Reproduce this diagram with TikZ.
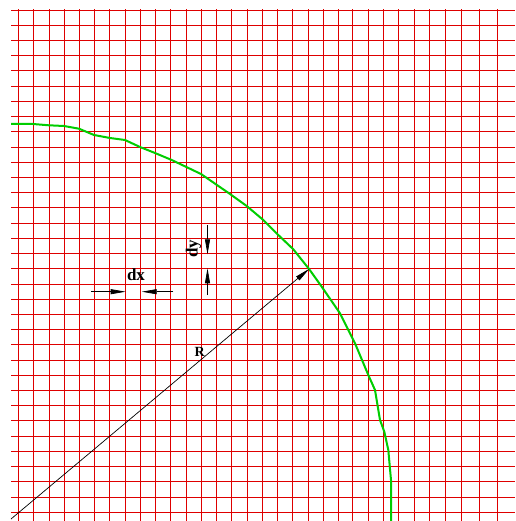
\documentclass[tikz,border=0pt]{standalone}
\usepackage{fontspec}
\setmainfont{Liberation Serif}
\usetikzlibrary{arrows.meta}
\definecolor{gridred}{RGB}{222,0,0}
\definecolor{curvegreen}{RGB}{0,205,0}
\tikzset{
  gridline/.style={gridred, line width=0.9pt},
  curveline/.style={curvegreen, line width=2pt, line join=round},
  arrowline/.style={black, line width=0.7pt, -{Triangle[length=15pt,width=5pt]}},
  lbl/.style={font=\bfseries\fontsize{17}{17}\selectfont, inner sep=0pt},
  lblR/.style={font=\bfseries\fontsize{14}{14}\selectfont, inner sep=0pt}
}
\begin{document}
\begin{tikzpicture}[x=1pt,y=-1pt]
\useasboundingbox (0,0) rectangle (515,521);
% horizontal grid lines
\foreach \k in {0,...,33}{
  \draw[gridline] (11,{10+15.22*\k}) -- (515,{10+15.22*\k});
}
% vertical grid lines
\foreach \xx in {18.3,33.3,49,64,79.3,94.3,109.7,125,140,155.5,170.7,186,201,216.3,231.7,247,262.3,277.3,292.7,308,323.3,338,352.9,368.3,383.3,398.7,414.2,429.5,445.5,461.7,479,497.3}{
  \draw[gridline] (\xx,9.5) -- (\xx,521);
}
% green curve
\draw[curveline] (11,124) -- (33,124) -- (49,125.3) -- (64,126) -- (79,128.7) -- (94,135) -- (110,138) -- (125,140) -- (140,147) -- (155,153) -- (171.7,160) -- (201,174) -- (229,193.3) -- (246.7,206) -- (263.3,220) -- (278.3,235) -- (293.3,249.3) -- (309.3,269.3) -- (321.7,286.7) -- (340,313.3) -- (355,343.3) -- (368.3,375) -- (375,390) -- (380,420) -- (384.3,431.7) -- (388.3,450) -- (391,480) -- (391,521);
% radius
\coordinate (O) at (11,519);
\coordinate (P) at (309.3,268.8);
\draw[arrowline] (O) -- (P);
\node[lblR, anchor=base] (R) at (199.7,356.7) {R};
% dx
\coordinate (dxa) at (91,291.7);
\coordinate (dxb) at (125.7,291.7);
\coordinate (dxc) at (173.3,291.7);
\coordinate (dxd) at (141.7,291.7);
\draw[arrowline] (dxa) -- (dxb);
\draw[arrowline] (dxc) -- (dxd);
\node[lbl, anchor=base] (dx) at (136,280.7) {dx};
% dy
\coordinate (dya) at (207.5,225);
\coordinate (dyb) at (207.5,254.3);
\coordinate (dyc) at (207.5,295);
\coordinate (dyd) at (207.5,268.3);
\draw[arrowline] (dya) -- (dyb);
\draw[arrowline] (dyc) -- (dyd);
\node[lbl, anchor=base, rotate=90] (dy) at (197.5,249) {dy};
\end{tikzpicture}
\end{document}
